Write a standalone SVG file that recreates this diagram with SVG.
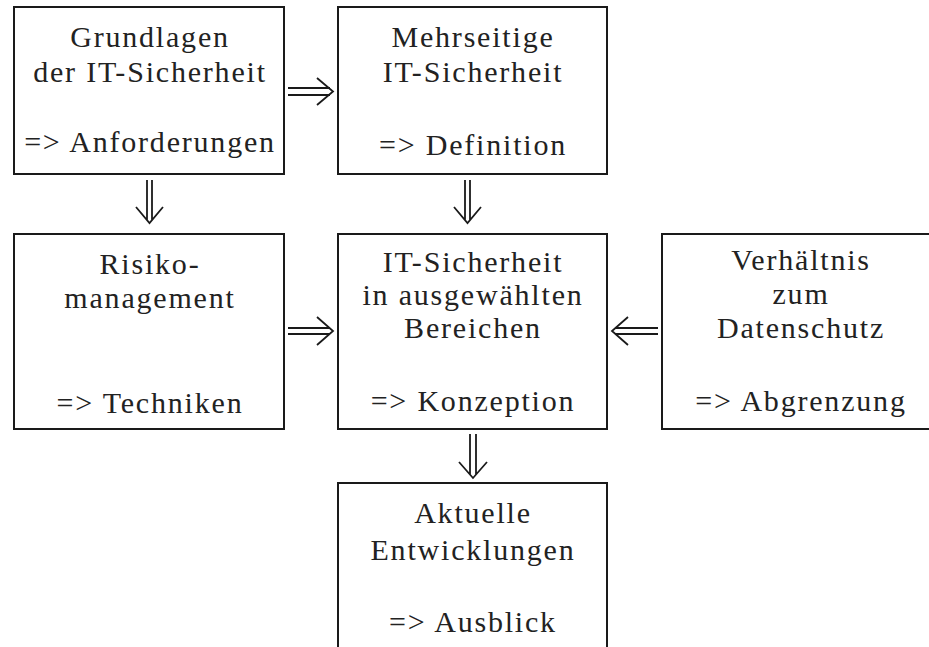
<svg xmlns="http://www.w3.org/2000/svg" width="929" height="647" viewBox="0 0 929 647">
<style>
.box{fill:#fff;stroke:#1a1a1a;stroke-width:2}
.t{font-family:"Liberation Serif",serif;font-size:30px;letter-spacing:1.8px;fill:#222;text-anchor:middle}
.ar{fill:none;stroke:#1a1a1a;stroke-width:1.8}
</style>
<rect width="929" height="647" fill="#fff"/>
<g id="n1"><rect class="box" x="14" y="7" width="270" height="167"/>
<text class="t" x="150" y="47">Grundlagen</text>
<text class="t" x="150" y="82">der IT-Sicherheit</text>
<text class="t" x="150" y="152">=&gt; Anforderungen</text></g>
<g id="n2"><rect class="box" x="338" y="7" width="269" height="167"/>
<text class="t" x="473" y="47">Mehrseitige</text>
<text class="t" x="473" y="82">IT-Sicherheit</text>
<text class="t" x="473" y="155">=&gt; Definition</text></g>
<g id="n3"><rect class="box" x="14" y="234" width="270" height="195"/>
<text class="t" x="150" y="274">Risiko-</text>
<text class="t" x="150" y="308">management</text>
<text class="t" x="150" y="413">=&gt; Techniken</text></g>
<g id="n4"><rect class="box" x="338" y="234" width="269" height="195"/>
<text class="t" x="473" y="272">IT-Sicherheit</text>
<text class="t" x="473" y="305">in ausgewählten</text>
<text class="t" x="473" y="338">Bereichen</text>
<text class="t" x="473" y="411">=&gt; Konzeption</text></g>
<g id="n5"><rect class="box" x="662" y="234" width="290" height="195"/>
<text class="t" x="801" y="270">Verhältnis</text>
<text class="t" x="801" y="304">zum</text>
<text class="t" x="801" y="338">Datenschutz</text>
<text class="t" x="801" y="411">=&gt; Abgrenzung</text></g>
<g id="n6"><rect class="box" x="338" y="483" width="269" height="200"/>
<text class="t" x="473" y="523">Aktuelle</text>
<text class="t" x="473" y="560">Entwicklungen</text>
<text class="t" x="473" y="632">=&gt; Ausblick</text></g>
<g id="connectors" class="ar">
<path d="M288 88H330M288 95H330M317 78L333 91.5L317 105"/>
<path d="M147 180V220M152 180V220M136 207L149.5 223L163 207"/>
<path d="M465 180V220M470 180V220M454 207L467.5 223L481 207"/>
<path d="M288 328H330M288 334H330M317 317L333 331L317 345"/>
<path d="M615 328H658M615 334H658M628 317L612 331L628 345"/>
<path d="M470 434V475M476 434V475M459 462L473 478L487 462"/>
</g>
</svg>
